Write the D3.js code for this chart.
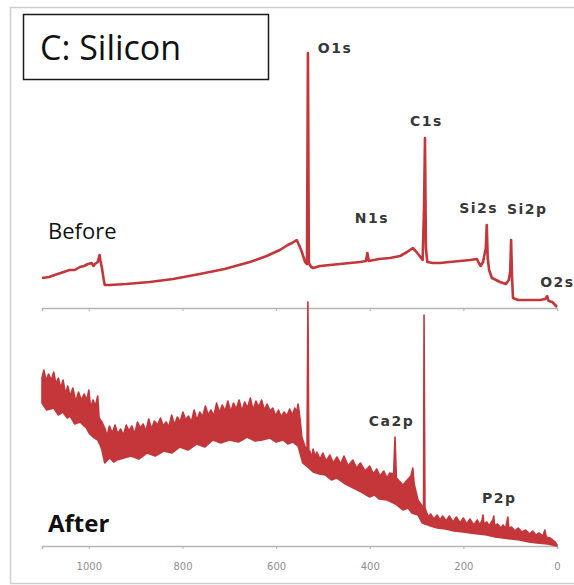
<!DOCTYPE html>
<html>
<head>
<meta charset="utf-8">
<script src="https://cdn.jsdelivr.net/npm/d3@7"></script>
<style>
  html, body { margin: 0; padding: 0; background: #fff; }
  svg { display: block; }
</style>
</head>
<body>
<svg id="chart"></svg>
<script>
// XPS survey spectra, binding energy (eV) vs intensity (a.u.)
const energyTicks = [1000, 800, 600, 400, 200, 0];

const beforeEnergy = [1100, 1085, 1073, 1060, 1041, 1030, 1019, 1010, 1002, 994, 990, 987, 981, 977, 975, 972, 968, 966, 955, 920, 870, 820, 763, 710, 656, 620, 592, 575, 566, 556, 550, 545, 538, 534, 532, 530, 525, 521, 506, 485, 442, 420, 408, 405, 402, 380, 357, 335, 320, 308, 302, 295, 287, 284, 282, 280, 277, 265, 250, 230, 207, 185, 171, 167, 163, 158, 152, 150, 148, 145, 139, 130, 122, 109, 103, 100, 98, 96, 94, 83, 60, 36, 25, 21, 18, 10, 0];
const beforeCounts = [30, 31, 33, 35, 38, 38, 41, 42, 44, 45, 42, 44, 46, 53, 47, 40, 28, 23, 23, 24, 26, 29, 34, 39, 46, 52, 58, 63, 65, 68, 62, 56, 46, 44, 255, 45, 41, 40, 42, 43, 45, 46, 47, 55, 47, 49, 50, 52, 56, 60, 57, 53, 48, 100, 170, 60, 46, 45, 45, 46, 47, 48, 49, 45, 42, 46, 60, 83, 50, 38, 30, 28, 26, 24, 28, 36, 68, 30, 10, 8, 8, 8, 9, 12, 7, 6, 1];

// after: noisy band, upper and lower envelope
const afterTopEnergy = [
  1100, 1096, 1091, 1086, 1080, 1075, 1070, 1065, 1060, 1055,
  1050, 1045, 1040, 1034, 1028, 1022, 1016, 1010, 1004, 1000,
  996, 991, 986, 981, 978, 972, 966, 961, 956, 950,
  944, 938, 932, 926, 920, 914, 908, 902, 896, 890,
  884, 878, 872, 866, 860, 853, 847, 841, 835, 829,
  823, 817, 811, 805, 799, 793, 787, 781, 775, 769,
  763, 757, 751, 745, 739, 733, 727, 721, 715, 709,
  703, 697, 691, 685, 679, 673, 667, 661, 655, 649,
  643, 637, 631, 625, 619, 613, 607, 601, 595, 589,
  583, 577, 571, 565, 560, 556, 553, 549, 545, 538,
  534, 532, 530, 528, 524, 521, 516, 513, 506, 500,
  493, 485, 478, 470, 462, 455, 446, 436, 428, 420,
  410, 400, 392, 385, 378, 370, 363, 357, 349, 346,
  343, 335, 329, 320, 312, 308, 305, 299, 297, 288,
  285, 284, 282, 278, 274, 270, 263, 256, 250, 244,
  237, 230, 222, 215, 207, 200, 193, 186, 178, 170,
  165, 160, 158, 156, 150, 145, 140, 137, 135, 133,
  127, 120, 115, 110, 105, 103, 97, 90, 83, 75,
  67, 58, 52, 45, 38, 30, 26, 23, 15, 9,
  4, 0];
const afterTopCounts = [
  168, 176, 165, 172, 166, 174, 162, 168, 158, 166,
  152, 160, 150, 158, 144, 154, 146, 152, 146, 156,
  138, 146, 140, 150, 128, 124, 118, 110, 120, 113,
  121, 112, 117, 111, 121, 115, 120, 112, 124, 118,
  122, 115, 127, 117, 125, 121, 128, 120, 124, 119,
  131, 121, 129, 124, 134, 126, 130, 124, 136, 126,
  134, 129, 140, 131, 136, 130, 143, 133, 141, 135,
  145, 134, 143, 137, 146, 135, 144, 138, 148, 136,
  145, 139, 146, 136, 142, 135, 138, 130, 136, 129,
  134, 130, 137, 131, 138, 134, 142, 128, 109, 99,
  96, 244, 92, 95, 88, 97, 89, 94, 87, 93,
  85, 91, 83, 89, 82, 90, 80, 86, 78, 83,
  75, 80, 72, 77, 70, 75, 68, 73, 72, 109,
  68, 64, 61, 66, 70, 78, 62, 50, 46, 40,
  40, 231, 38, 33, 29, 32, 27, 31, 26, 30,
  25, 30, 24, 29, 23, 28, 22, 27, 21, 26,
  21, 26, 31, 22, 24, 20, 24, 26, 30, 20,
  22, 18, 21, 17, 29, 18, 19, 15, 18, 14,
  16, 12, 15, 11, 13, 10, 16, 9, 8, 6,
  4, 1];
const afterBottomEnergy = [
  1100, 1090, 1075, 1065, 1056, 1046, 1040, 1030, 1019, 1010,
  1005, 998, 991, 981, 975, 972, 966, 960, 955, 947,
  940, 925, 910, 893, 876, 858, 840, 823, 806, 788,
  770, 752, 735, 718, 700, 680, 662, 645, 630, 613,
  600, 585, 575, 564, 553, 543, 530, 521, 508, 495,
  482, 470, 452, 435, 418, 400, 390, 380, 363, 345,
  329, 318, 310, 297, 288, 270, 256, 238, 220, 200,
  186, 168, 150, 132, 115, 98, 80, 60, 43, 20,
  0];
const afterBottomCounts = [
  143, 136, 138, 131, 134, 128, 130, 122, 124, 120,
  118, 112, 109, 106, 100, 96, 83, 86, 88, 84,
  86, 88, 90, 87, 93, 90, 95, 93, 99, 96,
  102, 99, 106, 103, 106, 104, 109, 105, 106, 108,
  104, 106, 102, 104, 100, 83, 78, 74, 72, 71,
  66, 68, 62, 58, 54, 49, 51, 47, 46, 42,
  36, 38, 33, 31, 23, 20, 18, 17, 15, 14,
  13, 12, 11, 9, 8, 7, 6, 4, 3, 2,
  0];

const peakNames = ["O1s", "N1s", "C1s", "Si2s", "Si2p", "O2s"];
const peakLabelEnergy = [511, 432, 314, 209, 107, 36];
const peakLabelCounts = [255, 85, 182, 95, 94, 21];
const afterPeakNames = ["Ca2p", "P2p"];
const afterPeakLabelEnergy = [402, 160];
const afterPeakLabelCounts = [120, 43];

const width = 574;
const height = 585;
const lineColor = "#c4363a";
const labelFont = "'DejaVu Sans', sans-serif";
const textFont = "'Open Sans', sans-serif";

const svg = d3.select("svg#chart")
    .attr("width", width)
    .attr("height", height)
    .attr("viewBox", [0, 0, width, height]);

// outer frame + title box
svg.append("rect")
    .attr("x", 10.5).attr("y", 7.5)
    .attr("width", 600).attr("height", 576)
    .attr("fill", "none")
    .attr("stroke", "#cfcfcf")
    .attr("stroke-width", 1.5);

svg.append("rect")
    .attr("x", 23.5).attr("y", 14.5)
    .attr("width", 245).attr("height", 65)
    .attr("fill", "#fff")
    .attr("stroke", "#1a1a1a")
    .attr("stroke-width", 1.5);

svg.append("text")
    .attr("x", 40).attr("y", 60)
    .attr("font-family", textFont)
    .attr("font-size", 34)
    .attr("fill", "#111")
    .text("C: Silicon");

const x = d3.scaleLinear().domain([1100, 0]).range([42, 557]);
const yBefore = d3.scaleLinear().domain([0, 260]).range([308, 48]);
const yAfter = d3.scaleLinear().domain([0, 250]).range([546, 296]);

function axis(y0, withLabels) {
  const g = svg.append("g")
      .attr("transform", `translate(0,${y0})`)
      .call(d3.axisBottom(x)
          .tickValues(energyTicks)
          .tickSize(3)
          .tickPadding(14)
          .tickFormat(withLabels ? d3.format("d") : ""));
  g.select(".domain")
      .attr("stroke", "#b5b5b5")
      .attr("stroke-width", 1.5);
  g.selectAll(".tick line").attr("stroke", "#b5b5b5");
  g.selectAll(".tick text")
      .attr("font-family", labelFont)
      .attr("font-size", 10)
      .attr("fill", "#8f8f8f");
  return g;
}

axis(308, false);
axis(546, true);

// before spectrum
const before = beforeEnergy.map((e, i) => [e, beforeCounts[i]]);
svg.append("path")
    .datum(before)
    .attr("fill", "none")
    .attr("stroke", lineColor)
    .attr("stroke-width", 2.6)
    .attr("stroke-linejoin", "round")
    .attr("d", d3.line().x(d => x(d[0])).y(d => yBefore(d[1])));

// after spectrum: filled noise band
const afterUpper = afterTopEnergy.map((e, i) => [e, afterTopCounts[i]]);
const afterLower = afterBottomEnergy.map((e, i) => [e, afterBottomCounts[i]]).reverse();
svg.append("path")
    .datum(afterUpper.concat(afterLower))
    .attr("fill", lineColor)
    .attr("stroke", lineColor)
    .attr("stroke-width", 1.6)
    .attr("stroke-linejoin", "round")
    .attr("d", d => d3.line().x(p => x(p[0])).y(p => yAfter(p[1]))(d) + "Z");

// peak labels
function peakLabels(names, energies, counts, y) {
  svg.append("g")
      .selectAll("text")
      .data(names)
      .join("text")
      .attr("x", (d, i) => x(energies[i]))
      .attr("y", (d, i) => y(counts[i]))
      .attr("font-family", labelFont)
      .attr("font-weight", "bold")
      .attr("font-size", 14)
      .attr("letter-spacing", 1.5)
      .attr("fill", "#383838")
      .text(d => d);
}

peakLabels(peakNames, peakLabelEnergy, peakLabelCounts, yBefore);
peakLabels(afterPeakNames, afterPeakLabelEnergy, afterPeakLabelCounts, yAfter);

svg.append("text")
    .attr("x", 48).attr("y", 239)
    .attr("font-family", textFont)
    .attr("font-size", 22)
    .attr("fill", "#111")
    .text("Before");

svg.append("text")
    .attr("x", 48).attr("y", 532)
    .attr("font-family", textFont)
    .attr("font-weight", "bold")
    .attr("font-size", 24)
    .attr("fill", "#111")
    .text("After");
</script>
</body>
</html>
